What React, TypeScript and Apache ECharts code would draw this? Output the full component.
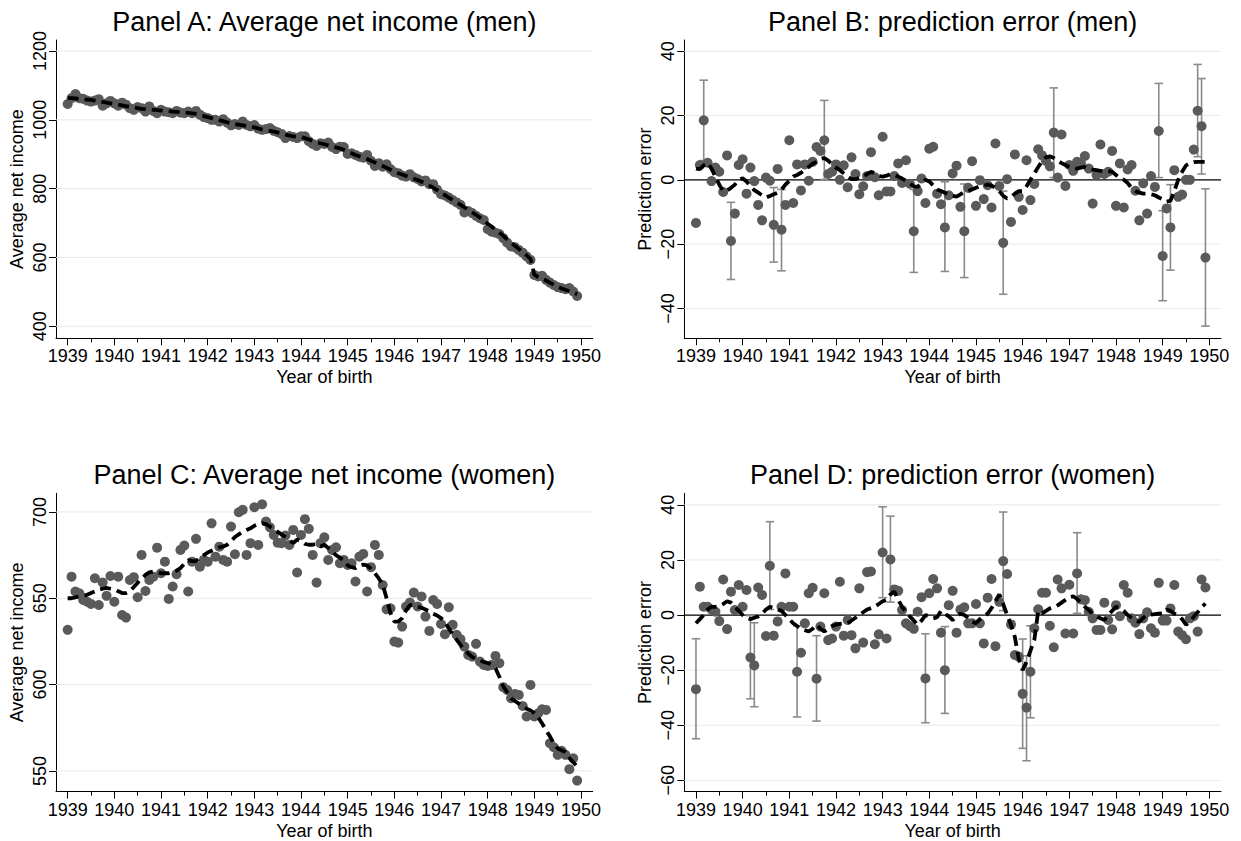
import React, { useEffect, useRef } from "react";
import * as echarts from "echarts";

const FONT = '"Liberation Sans", Arial, Helvetica, sans-serif';
const X_MIN = 1938.75;
const X_MAX = 1950.25;

const yearTicks = [1939, 1940, 1941, 1942, 1943, 1944, 1945, 1946, 1947, 1948, 1949, 1950];
const halfYearTicks = [1939.5, 1940.5, 1941.5, 1942.5, 1943.5, 1944.5, 1945.5, 1946.5, 1947.5, 1948.5, 1949.5];
// monthly birth cohorts, Jan 1939 .. Dec 1949
const birthMonth = Array.from({ length: 132 }, (_, i) => 1939 + i / 12);

// Panel A: average net income (men)
const menIncome = [
  1046, 1063, 1075, 1063, 1061, 1056, 1053, 1056, 1060, 1041, 1048, 1055,
  1048, 1041, 1050, 1044, 1034, 1029, 1037, 1034, 1024, 1039, 1026, 1019,
  1029, 1024, 1022, 1019, 1026, 1021, 1019, 1024, 1019, 1026, 1015, 1008,
  1005, 1000, 1000, 995, 1002, 992, 984, 988, 985, 995, 985, 981,
  985, 974, 971, 973, 976, 968, 964, 959, 947, 953, 950, 947,
  952, 952, 938, 930, 924, 932, 930, 934, 921, 915, 922, 921,
  901, 903, 898, 893, 890, 898, 881, 866, 874, 864, 871, 857,
  848, 845, 838, 835, 842, 833, 828, 821, 824, 813, 813, 797,
  784, 780, 774, 767, 760, 753, 731, 735, 729, 721, 714, 709,
  682, 675, 672, 668, 656, 643, 632, 630, 622, 614, 603, 593,
  549, 545, 547, 535, 527, 520, 514, 511, 508, 511, 501, 488,
];
const menIncomeFit = [
  1063, 1063, 1062, 1061, 1060, 1059, 1058, 1056, 1054, 1052, 1050, 1048,
  1046, 1044, 1042, 1040, 1038, 1036, 1034, 1032, 1031, 1030, 1029, 1028,
  1027, 1026, 1025, 1024, 1023, 1022, 1021, 1020, 1019, 1017, 1014, 1011,
  1008, 1005, 1002, 999, 996, 993, 990, 988, 986, 984, 982, 980,
  978, 975, 972, 970, 968, 966, 963, 960, 957, 954, 952, 951,
  950, 947, 943, 939, 935, 932, 929, 926, 923, 920, 917, 913,
  908, 903, 898, 894, 890, 886, 881, 876, 871, 866, 861, 855,
  849, 845, 841, 837, 833, 829, 825, 820, 815, 809, 803, 796,
  787, 781, 774, 767, 760, 753, 746, 738, 731, 724, 716, 708,
  698, 690, 681, 672, 663, 653, 643, 634, 625, 616, 606, 596,
  550, 543, 538, 533, 527, 521, 515, 510, 506, 502, 498, 493,
];

// Panel B: prediction error (men)
const menError = [
  -13.4, 4.6, 18.5, 5.3, -0.4, 3.8, 2.5, -3.8, 7.6, -19, -10.5, 4.6,
  6.4, -4.3, 3.8, -0.4, -7.8, -12.6, 0.7, -0.3, -14, 3.4, -15.5, -7.8,
  12.3, -7.2, 4.8, -3.3, 4.8, -0.3, 5.6, 10.2, 9, 12.3, 1.8, 2.5,
  4.8, 0, 4.5, -2.3, 7, 1.8, -4.5, -2, 1.2, 8.6, 0.8, -4.8,
  13.4, -3.6, -3.6, 1.2, 5.1, -1, 6.1, -1.2, -16, -3.5, 0.4, -7.2,
  9.7, 10.3, -4.3, -7.6, -14.8, -4.8, 2, 4.4, -8.4, -16, -2.5, 5.8,
  -8.1, -0.1, -6, -1.7, -8.6, 11.3, -1.9, -19.6, 0.2, -13.1, 7.9, -5.3,
  -9.4, 6.1, -6.3, -1.3, 9.5, 7.6, 5.9, 4.2, 14.7, 0.7, 14.1, -1.9,
  4.6, 2.8, 5.6, 5.1, 7.4, 3.5, -7.4, 1.5, 11, 1.8, 2.5, 9,
  -8.1, 5.1, -8.6, 3.2, 4.6, -3.4, -12.6, -1.1, -10.5, 1.2, -2.2, 15.2,
  -23.7, -8.9, -14.8, 3, -5.3, -4.6, 0, 0, 9.4, 21.5, 16.7, -24.2,
];
const menErrorFit = [
  3.5, 3.3, 4.5, 5.3, 3.5, 1, -1.5, -3.5, -3.3, -2.5, -1.5, 0,
  0.5, -0.5, -2, -3.2, -4, -4.8, -5.5, -5, -4.5, -4, -3, -1.5,
  -0.3, 1, 1.5, 2.2, 3, 4, 5, 5.6, 6.5, 6.8, 6, 4.8,
  3.8, 3, 2, 1, 0.2, 0.2, 0.6, 1, 1.8, 2.5, 2, 1.2,
  1, 1.3, 1.8, 1.6, 1, 0.4, -0.3, -1.1, -2, -2.2, -1, 0,
  -0.5, -1.7, -3, -3.5, -4, -4.5, -5, -5.2, -4.5, -3.8, -3.5, -3,
  -2.5, -2, -1.8, -1.5, -1.8, -2.5, -3.5, -5, -5.8, -5.3, -4.3, -3.5,
  -3.5, -2, 0, 2, 4, 5.8, 7, 7.3, 6.8, 6, 5.2, 4.6,
  4, 3.8, 3.5, 3.8, 4, 3.5, 3.2, 3, 2.8, 2.6, 2.8, 2.5,
  1.5, 0.5, 0, -1, -2.5, -3.5, -4, -4.3, -4.3, -4.5, -4.8, -5.5,
  -6, -6.8, -6.5, -3.5, 0, 2.5, 4.5, 5.1, 5.5, 5.6, 5.6, 5.6,
];
const menBarMonth = [2, 9, 20, 22, 33, 56, 64, 69, 79, 92, 119, 120, 122, 129, 130, 131];
const menBarLow = [6, -31, -25.6, -28.3, 0.1, -28.8, -28.5, -30.4, -35.6, 0.7, 0.7, -37.6, -28.1, 7.2, 1.8, -45.5];
const menBarHigh = [31, -7, -2.4, -3, 24.7, -3, -0.6, -1.3, -3.5, 28.6, 30, -9.6, -1.5, 35.9, 31.5, -2.8];

// Panel C: average net income (women)
const womenIncome = [
  631.7, 662.5, 653.9, 652.9, 649, 648, 646.7, 661.6, 646.1, 659.1, 651.4, 662.9,
  648, 662.5, 640.3, 638.8, 660.6, 662.2, 650.6, 675.1, 654.2, 660.6, 662.5, 679.3,
  664.5, 671.2, 649.6, 656.8, 663.9, 678, 680.5, 653.9, 671.2, 684.4, 668.3, 672.2,
  671.2, 693.4, 674.1, 679.9, 672.2, 671.2, 691.5, 675.5, 699.8, 701.2, 675.1, 681.9,
  702.7, 680.9, 704.4, 694.4, 691.1, 686.7, 682.2, 681.9, 686.3, 680.9, 689.6, 664.9,
  686.7, 695.8, 690.2, 675.1, 659.1, 681.9, 685.3, 672.2, 678, 679.5, 670.3, 672.2,
  669.3, 670.3, 659.7, 674.1, 675.7, 653.9, 668, 680.9, 675.1, 657.7, 643.6, 644.2,
  624.9, 624.3, 633.6, 645.2, 647.5, 653.3, 645.2, 651, 639.4, 631.1, 649, 646.7,
  635.1, 629.2, 644.8, 634.6, 628.8, 626.3, 622, 617.2, 616.2, 623.6, 613.3, 611.4,
  610.8, 611.4, 616.6, 612.4, 598.5, 596.9, 592.1, 594.6, 594, 587.6, 581.5, 599.8,
  581.5, 583.4, 585.7, 585.3, 566, 563.7, 559.3, 561.6, 559.3, 551, 557.3, 544.4,
];
const womenIncomeFit = [
  650, 650, 650.5, 651, 651.5, 652, 653, 654, 655, 655.5, 656, 655.5,
  655, 654, 653, 653, 654, 656.5, 659, 661.5, 663.5, 665, 665.5, 665,
  664.5, 664.5, 664.5, 665, 666, 667.5, 670, 672, 671.5, 671.5, 673.5, 675,
  676.5, 677.5, 678.5, 679.5, 680, 681, 683, 685.5, 687, 688.5, 689.5, 690.5,
  692, 693, 693.5, 693, 691.5, 690, 688.5, 687, 685.5, 683.5, 682, 684,
  683, 681.5, 681, 681, 681.5, 680, 681, 679, 677, 675, 673.5, 672,
  669, 668, 667.5, 669, 669.5, 669, 667, 664.5, 661.5, 658, 650, 641.5,
  636.5, 636.5, 638.5, 643, 646, 646, 645, 644.5, 643.5, 642.5, 641, 640,
  638.5, 636, 632.5, 629, 626, 623, 620, 618, 616, 615, 614, 613,
  612.5, 611.5, 609.5, 604.5, 599, 595.5, 592, 590.5, 589, 587.5, 586, 585,
  583.5, 581, 577.5, 573.5, 570, 566, 563, 562, 561, 557.5, 555, 552.5,
];

// Panel D: prediction error (women)
const womenError = [
  -26.9, 10.3, 3, 3, 2, 1.2, -2.2, 12.9, -5.1, 8.5, 1.8, 10.9,
  3, 9.1, -15.4, -18.3, 10, 7.3, -7.6, 17.9, -7.5, -2.3, 3, 15.1,
  3, 3, -20.6, -13.7, -3, 7.9, 9.9, -23.1, -4.2, 7.9, -9.1, -8.5,
  -4.2, 12.1, -7.5, -1.8, -7.3, -12.1, 9.7, -10, 15.6, 15.8, -10.6, -7,
  22.7, -8.5, 20.2, 9.3, 8.8, 1.8, -3, -4, -5, 1.2, 6.5, -23,
  7.9, 13.1, 9.7, -6.4, -20, 3.6, 8.8, -6.4, 2, 2.8, -3, -3,
  4, -3, -10.3, 6.3, 13.1, -11.3, 4.8, 19.6, 14.9, -3.4, -14.5, -15.1,
  -28.6, -33.6, -20.6, -4.8, 2.1, 8.1, 8.1, -3.9, -11.7, 12.9, 9.7, -6.7,
  11, -6.7, 15.1, 5.7, 5.4, 1.2, -1.2, -5.4, -5.4, 4.5, -1.8, -5.2,
  3.6, -0.4, 10.9, 8.1, -1.2, -2.8, -6.9, -1.2, 1, -4.8, -6.4, 11.7,
  -2, -2, 2.4, 10.9, -6, -7.3, -8.8, -1.2, -0.4, -6, 12.9, 10,
];
const womenErrorFit = [
  -3, -1.5, 0, 2, 3, 3, 3.2, 4, 5, 4.5, 3, 1.5,
  0, -1, -1.5, -1, -0.5, 0.5, 2, 3, 2.5, 2, 1.5, 0,
  -1.5, -3, -4, -5, -5.5, -6, -5, -3.5, -5, -6, -5, -4,
  -3.5, -3.2, -3, -3, -2, -1, 0, 1, 2, 2.5, 3, 4,
  5, 5.5, 7.5, 8.5, 5.5, 3, 1, -0.5, -2, -3.5, -2, 0,
  -0.5, -1.2, -0.8, 1.5, 0.5, -0.5, -1.8, -0.5, 0.5, 0, -1, -2.5,
  -3, -1.5, -0.5, 0.5, 2.5, 5, 7.5, 4, 0, -3.5, -8, -16,
  -20, -17, -13, -9, 1.5, 0.6, 1.5, 2.4, 2.8, 3.5, 4.5, 5.5,
  6.5, 6.8, 5.8, 4.5, 3, 1.8, 0.5, -0.6, -1.2, -1.8, 0, 1.5,
  3, 2.5, 1.5, 0, -1, -2, -2.5, -1, 0, 0.2, 0.3, 0.5,
  0.6, 2, 1.5, 0.5, 0, -1.5, -3.5, -2.5, -0.6, 1, 2.8, 4.2,
];
const womenBarMonth = [0, 14, 15, 19, 26, 31, 48, 50, 59, 64, 79, 84, 85, 86, 98];
const womenBarLow = [-44.9, -30.4, -33.3, 2, -37, -38.5, 6.3, 4.7, -39.1, -35.7, 1.6, -48.4, -52.9, -37.3, 0.6];
const womenBarHigh = [-8.6, -0.2, -2.8, 33.9, -3.9, -7.5, 39.3, 35.9, -6.8, -4.2, 37.4, -8.7, -14.8, -3.9, 29.9];

const panels = [
  {
    title: "Panel A: Average net income (men)", yName: "Average net income",
    left: 56, top: 40, yMin: 365.1, yMax: 1232, yTicks: [400, 600, 800, 1000, 1200],
    values: menIncome, fit: menIncomeFit, zero: false,
    barMonth: [] as number[], barLow: [] as number[], barHigh: [] as number[],
  },
  {
    title: "Panel B: prediction error (men)", yName: "Prediction error",
    left: 684.3, top: 40, yMin: -49.3, yMax: 43.5, yTicks: [-40, -20, 0, 20, 40],
    values: menError, fit: menErrorFit, zero: true,
    barMonth: menBarMonth, barLow: menBarLow, barHigh: menBarHigh,
  },
  {
    title: "Panel C: Average net income (women)", yName: "Average net income",
    left: 56, top: 493.3, yMin: 538, yMax: 710.8, yTicks: [550, 600, 650, 700],
    values: womenIncome, fit: womenIncomeFit, zero: false,
    barMonth: [] as number[], barLow: [] as number[], barHigh: [] as number[],
  },
  {
    title: "Panel D: prediction error (women)", yName: "Prediction error",
    left: 684.3, top: 493.3, yMin: -64.1, yMax: 44.2, yTicks: [-60, -40, -20, 0, 20, 40],
    values: womenError, fit: womenErrorFit, zero: true,
    barMonth: womenBarMonth, barLow: womenBarLow, barHigh: womenBarHigh,
  },
];

const GRID_W = 536.7;
const GRID_H = 298.3;

const plainNumber = (v: number) => String(Math.round(v * 100) / 100).replace("-", "\u2212");

function buildOption() {
  const grid: any[] = [];
  const xAxis: any[] = [];
  const yAxis: any[] = [];
  const series: any[] = [];
  const graphic: any[] = [];

  panels.forEach((p, i) => {
    grid.push({ left: p.left, top: p.top, width: GRID_W, height: GRID_H, containLabel: false, outerBoundsMode: "none" });
    xAxis.push({
      type: "value", gridIndex: i, min: X_MIN, max: X_MAX, position: "bottom",
      axisLine: { show: true, onZero: false, lineStyle: { color: "#000", width: 1 } },
      axisTick: { show: true, length: 7, customValues: yearTicks, lineStyle: { color: "#000", width: 1 } },
      axisLabel: { show: true, customValues: yearTicks, formatter: plainNumber, fontSize: 18, fontFamily: FONT, color: "#000", margin: 9, hideOverlap: false },
      splitLine: { show: false },
      name: "Year of birth", nameLocation: "middle", nameGap: 30,
      nameTextStyle: { fontSize: 18, fontFamily: FONT, color: "#000" },
    });
    xAxis.push({
      type: "value", gridIndex: i, min: X_MIN, max: X_MAX, position: "bottom", offset: 0,
      axisLine: { show: false, onZero: false },
      axisTick: { show: true, length: 4, customValues: halfYearTicks, lineStyle: { color: "#000", width: 1 } },
      axisLabel: { show: false },
      splitLine: { show: false },
    });
    yAxis.push({
      type: "value", gridIndex: i, min: p.yMin, max: p.yMax,
      axisLine: { show: true, onZero: false, lineStyle: { color: "#000", width: 1 } },
      axisTick: { show: true, length: 7, customValues: p.yTicks, lineStyle: { color: "#000", width: 1 } },
      axisLabel: { show: true, customValues: p.yTicks, formatter: plainNumber, rotate: 90, fontSize: 18, fontFamily: FONT, color: "#000", margin: 7 },
      splitLine: { show: false },
      name: p.yName, nameLocation: "middle", nameGap: 30,
      nameTextStyle: { fontSize: 18, fontFamily: FONT, color: "#000" },
    });

    const xi = i * 2;
    const zero = p.zero;
    // horizontal gridlines (and the zero reference line)
    series.push({
      type: "custom", xAxisIndex: xi, yAxisIndex: i, z: 1, silent: true,
      data: p.yTicks.map((v) => [X_MIN, v]),
      encode: { x: 0, y: 1 },
      renderItem: (params: any, api: any) => {
        const cs = params.coordSys;
        const v = api.value(1);
        const y = api.coord([X_MIN, v])[1];
        const isZero = zero && v === 0;
        return {
          type: "line",
          shape: { x1: cs.x, y1: y, x2: cs.x + cs.width, y2: y },
          style: { stroke: isZero ? "#000" : "#e8e8e8", lineWidth: isZero ? 1.2 : 1 },
          z2: isZero ? 5 : 1,
        };
      },
    });
    if (p.barMonth.length) {
      series.push({
        type: "custom", xAxisIndex: xi, yAxisIndex: i, z: 2, silent: true,
        data: p.barMonth.map((m, k) => [birthMonth[m], p.barLow[k], p.barHigh[k]]),
        encode: { x: 0, y: [1, 2] },
        renderItem: (params: any, api: any) => {
          const x = api.value(0);
          const lo = api.coord([x, api.value(1)]);
          const hi = api.coord([x, api.value(2)]);
          const hw = 4.2;
          const style = { stroke: "#8a8a8a", lineWidth: 1.6, fill: "none" };
          return {
            type: "group",
            children: [
              { type: "line", shape: { x1: lo[0], y1: lo[1], x2: hi[0], y2: hi[1] }, style },
              { type: "line", shape: { x1: lo[0] - hw, y1: lo[1], x2: lo[0] + hw, y2: lo[1] }, style },
              { type: "line", shape: { x1: hi[0] - hw, y1: hi[1], x2: hi[0] + hw, y2: hi[1] }, style },
            ],
          };
        },
      });
    }
    series.push({
      type: "scatter", xAxisIndex: xi, yAxisIndex: i, z: 3, silent: true,
      symbol: "circle", symbolSize: 10,
      itemStyle: { color: "#5a5a5a", opacity: 1 },
      data: birthMonth.map((x, k) => [x, p.values[k]]),
    });
    series.push({
      type: "line", xAxisIndex: xi, yAxisIndex: i, z: 4, silent: true,
      showSymbol: false, symbol: "none", smooth: false,
      lineStyle: { color: "#000", width: 3.8, type: [11, 6], cap: "butt" },
      data: birthMonth.map((x, k) => [x, p.fit[k]]),
    });

    graphic.push({
      type: "text", x: p.left + GRID_W / 2, y: p.top - 18.5,
      style: { text: p.title, fontSize: 27, fontFamily: FONT, fill: "#000", align: "center", verticalAlign: "middle" },
    });
  });

  return {
    animation: false,
    backgroundColor: "#ffffff",
    grid, xAxis, yAxis, series, graphic,
  };
}

export default function App() {
  const ref = useRef<HTMLDivElement>(null);
  useEffect(() => {
    if (!ref.current) return;
    const chart = echarts.init(ref.current, null, { renderer: "svg" });
    chart.setOption(buildOption() as any);
    return () => chart.dispose();
  }, []);
  return (
    <div
      ref={ref}
      style={{ position: "absolute", left: 0, top: 0, width: 1241, height: 841, background: "#fff" }}
    />
  );
}
